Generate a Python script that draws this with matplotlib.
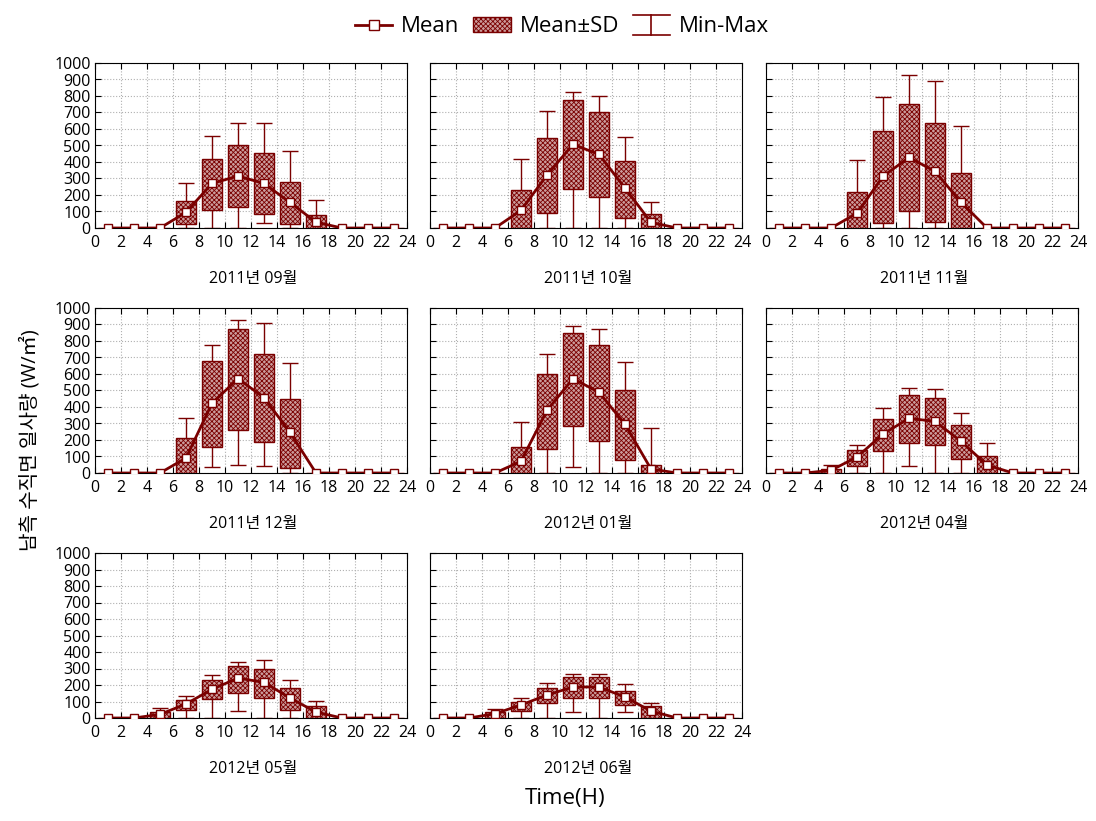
import numpy as np
import matplotlib
matplotlib.use("Agg")
import matplotlib.pyplot as plt
from matplotlib.lines import Line2D
from matplotlib.patches import Patch
from matplotlib.legend_handler import HandlerBase

plt.rcParams['font.family'] = ['Open Sans', 'Noto Sans CJK KR', 'DejaVu Sans']
plt.rcParams['hatch.linewidth'] = 0.6
plt.rcParams['hatch.color'] = '#7a0000'

MAROON = '#7a0000'
HATCH = 'xxxxxxx'
FILL = '#cc9c9c'

hours = [1, 3, 5, 7, 9, 11, 13, 15, 17, 19, 21, 23]
months = ['2011년 09월', '2011년 10월', '2011년 11월',
          '2011년 12월', '2012년 01월', '2012년 04월',
          '2012년 05월', '2012년 06월']

# mean, mean+SD, mean-SD, max, min per month
mean_vals = [
    [0, 0, 0, 95, 270, 315, 270, 155, 35, 0, 0, 0],
    [0, 0, 0, 107, 321, 507, 446, 242, 34, 0, 0, 0],
    [0, 0, 0, 89, 313, 428, 343, 156, 0, 0, 0, 0],
    [0, 0, 0, 91, 422, 572, 457, 246, 0, 0, 0, 0],
    [0, 0, 0, 71, 380, 572, 489, 295, 24, 0, 0, 0],
    [0, 0, 16, 97, 236, 331, 313, 192, 48, 0, 0, 0],
    [0, 0, 22, 85, 174, 242, 216, 121, 36, 0, 0, 0],
    [0, 0, 26, 79, 139, 188, 188, 127, 42, 0, 0, 0],
]
sd_hi = [
    [0, 0, 0, 162, 418, 503, 455, 279, 79, 0, 0, 0],
    [0, 0, 0, 230, 545, 776, 705, 406, 85, 0, 0, 0],
    [0, 0, 0, 218, 590, 750, 638, 333, 0, 0, 0, 0],
    [0, 0, 0, 212, 679, 873, 719, 448, 0, 0, 0, 0],
    [0, 0, 0, 158, 600, 848, 776, 503, 48, 0, 0, 0],
    [0, 0, 26, 139, 327, 473, 455, 291, 103, 0, 0, 0],
    [0, 0, 36, 107, 230, 315, 297, 182, 73, 0, 0, 0],
    [0, 0, 36, 97, 180, 246, 248, 162, 73, 0, 0, 0],
]
sd_lo = [
    [0, 0, 0, 26, 111, 127, 87, 26, 0, 0, 0, 0],
    [0, 0, 0, 0, 91, 236, 188, 61, 0, 0, 0, 0],
    [0, 0, 0, 0, 30, 101, 36, 0, 0, 0, 0, 0],
    [0, 0, 0, 0, 158, 259, 186, 30, 0, 0, 0, 0],
    [0, 0, 0, 0, 145, 285, 194, 79, 0, 0, 0, 0],
    [0, 0, 0, 42, 133, 182, 170, 85, 0, 0, 0, 0],
    [0, 0, 0, 48, 115, 152, 121, 48, 0, 0, 0, 0],
    [0, 0, 0, 42, 91, 121, 121, 79, 0, 0, 0, 0],
]
max_vals = [
    [0, 0, 0, 273, 556, 636, 636, 469, 168, 0, 0, 0],
    [0, 0, 0, 420, 709, 822, 800, 552, 158, 0, 0, 0],
    [0, 0, 0, 412, 794, 929, 891, 618, 0, 0, 0, 0],
    [0, 0, 0, 333, 776, 927, 909, 667, 0, 0, 0, 0],
    [0, 0, 0, 309, 723, 891, 871, 673, 273, 0, 0, 0],
    [0, 0, 48, 170, 394, 513, 507, 364, 182, 0, 0, 0],
    [0, 0, 61, 133, 261, 339, 352, 230, 103, 0, 0, 0],
    [0, 0, 55, 121, 212, 267, 267, 206, 91, 0, 0, 0],
]
min_vals = [
    [0, 0, 0, 0, 0, 0, 30, 0, 0, 0, 0, 0],
    [0, 0, 0, 0, 0, 0, 0, 0, 0, 0, 0, 0],
    [0, 0, 0, 0, 0, 0, 0, 0, 0, 0, 0, 0],
    [0, 0, 0, 0, 36, 48, 42, 0, 0, 0, 0, 0],
    [0, 0, 0, 0, 0, 36, 0, 0, 0, 0, 0, 0],
    [0, 0, 0, 0, 0, 42, 0, 0, 0, 0, 0, 0],
    [0, 0, 0, 0, 0, 42, 0, 0, 0, 0, 0, 0],
    [0, 0, 0, 0, 0, 36, 0, 36, 0, 0, 0, 0],
]

W, H = 1096, 821
fig = plt.figure(figsize=(W / 100, H / 100), dpi=100)

col_left = [95, 430, 766]
row_top = [63, 308, 553]
ax_w, ax_h = 312, 165
box_w, cap_w = 1.6, 1.3

for k, name in enumerate(months):
    r, c = divmod(k, 3)
    left, top = col_left[c], row_top[r]
    ax = fig.add_axes([left / W, 1 - (top + ax_h) / H, ax_w / W, ax_h / H])
    x = np.array(hours)
    mn, mx = np.array(min_vals[k]), np.array(max_vals[k])
    lo, hi = np.array(sd_lo[k]), np.array(sd_hi[k])

    # min-max whiskers
    for xi, a, b in zip(x, mn, mx):
        if b <= 0:
            continue
        ax.vlines(xi, a, b, color=MAROON, lw=1, zorder=2)
        ax.hlines([a, b], xi - cap_w / 2, xi + cap_w / 2, color=MAROON, lw=1, zorder=2)

    # mean +/- SD boxes
    ax.bar(x, hi - lo, bottom=lo, width=box_w, facecolor=FILL,
           edgecolor=MAROON, hatch=HATCH, lw=1, zorder=3)

    # mean line
    ax.plot(x, mean_vals[k], color=MAROON, lw=2, marker='s', ms=6,
            mfc='white', mec=MAROON, mew=1, zorder=4)

    ax.set_xlim(0, 24)
    ax.set_ylim(0, 1000)
    ax.set_xticks(range(0, 25, 2))
    ax.set_yticks(range(0, 1001, 100))
    ax.grid(True, color='#b0b0b0', ls=':', lw=0.8)
    ax.set_axisbelow(True)
    ax.tick_params(direction='in', top=True, length=4, labelsize=11.5, pad=3)
    if c != 0:
        ax.tick_params(labelleft=False)
    ax.tick_params(axis='x', pad=5)

    fig.text((left + ax_w / 2 + 2) / W, 1 - (top + ax_h + 51) / H, name,
             ha='center', va='center', fontsize=11.5)

fig.text(565 / W, 1 - 798 / H, 'Time(H)', ha='center', va='center', fontsize=16)
fig.text(30 / W, 1 - 440 / H, '남측 수직면 일사량 (W/㎡)', ha='center', va='center',
         rotation=90, fontsize=14.5)


class MinMaxHandler(HandlerBase):
    def create_artists(self, legend, orig_handle, xdescent, ydescent,
                       width, height, fontsize, trans):
        x0, x1 = -xdescent, -xdescent + width
        xm = (x0 + x1) / 2
        y0, y1 = -ydescent - 0.15 * height, -ydescent + 1.15 * height
        arts = [Line2D([x0, x1], [y1, y1]), Line2D([x0, x1], [y0, y0]),
                Line2D([xm, xm], [y0, y1])]
        for a in arts:
            a.set_color(MAROON)
            a.set_linewidth(1.2)
            a.set_transform(trans)
        return arts


h_mean = Line2D([], [], color=MAROON, lw=2, marker='s', ms=7, mfc='white',
                mec=MAROON)
h_sd = Patch(facecolor=FILL, edgecolor=MAROON, hatch=HATCH, lw=1)
h_mm = Line2D([], [])
fig.legend([h_mean, h_sd, h_mm], ['Mean', 'Mean±SD', 'Min-Max'],
           handler_map={h_mm: MinMaxHandler()}, loc='center',
           bbox_to_anchor=(562 / W, 1 - 27 / H), ncol=3, frameon=False,
           fontsize=16, handlelength=1.7, handletextpad=0.4, columnspacing=0.6)

fig.savefig('out.png', dpi=100)
